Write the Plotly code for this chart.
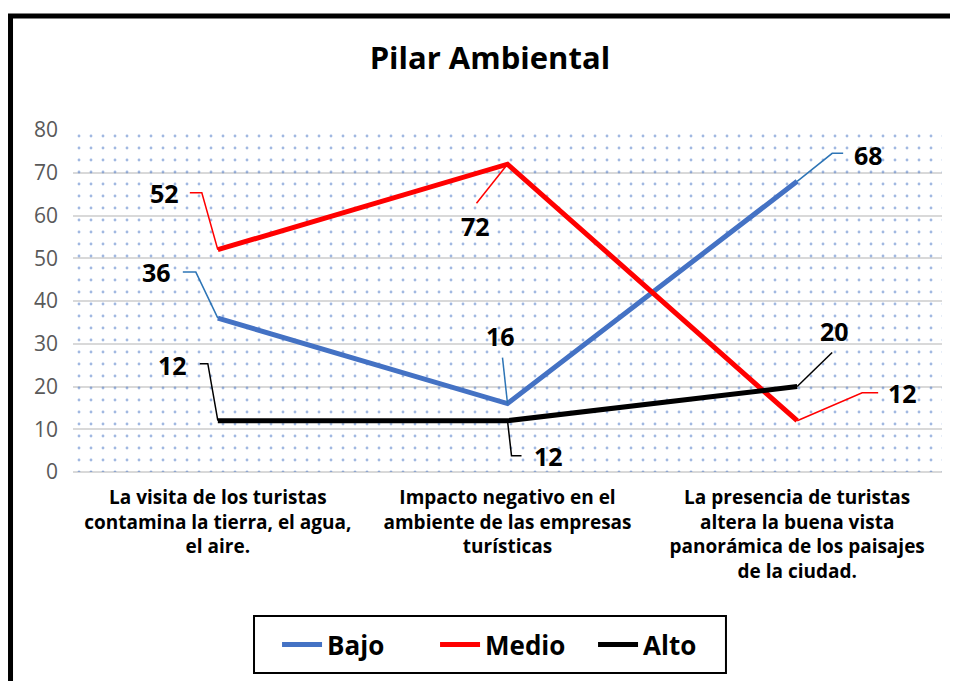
import plotly.graph_objects as go

# data
categories = [
    "La visita de los turistas<br>contamina la tierra, el agua,<br>el aire.",
    "Impacto negativo en el<br>ambiente de las empresas<br>turísticas",
    "La presencia de turistas<br>altera la buena vista<br>panorámica de los paisajes<br>de la ciudad.",
]
bajo = [36, 16, 68]
medio = [52, 72, 12]
alto = [12, 12, 20]
y_ticks = [0, 10, 20, 30, 40, 50, 60, 70, 80]

FONT = "Open Sans"
series = [
    ("Bajo", bajo, "#4472C4", "#2E75B6"),
    ("Medio", medio, "#FF0000", "#FF0000"),
    ("Alto", alto, "#000000", "#000000"),
]

# leader line elbows (pixel offsets from the point, y up) and label placement
leaders = {
    "Bajo": [[(-22, 46), (-35, 46)], [(-5, 46)], [(35, 28), (46, 28)]],
    "Medio": [[(-16, 57), (-28, 57)], [(-31, -39)], [(65, 28), (81, 28)]],
    "Alto": [[(-10, 57), (-18, 57)], [(4, -35), (14, -35)], [(35, 34)]],
}
labels = {
    "Bajo": [("right", -45, 46), ("center", -7, 68), ("left", 55, 26)],
    "Medio": [("right", -37, 57), ("center", -32, -62), ("left", 89, 28)],
    "Alto": [("right", -29, 56), ("left", 24, -35), ("center", 37, 56)],
}

fig = go.Figure()

# dotted plot-area fill
fig.add_trace(go.Bar(
    x=categories, y=[max(y_ticks)] * len(categories), width=1,
    marker=dict(color="rgba(0,0,0,0)", line_width=0,
                pattern=dict(shape=".", fgcolor="#4472C4", size=12,
                             solidity=0.045, fillmode="overlay")),
    showlegend=False, hoverinfo="skip",
))

for name, vals, color, lead in series:
    fig.add_trace(go.Scatter(
        x=categories, y=vals, mode="lines", name=name,
        line=dict(color=color, width=5),
    ))

annotations = []
shapes = []
for name, vals, color, lead in series:
    for i, v in enumerate(vals):
        pts = [(0, 0)] + leaders[name][i]
        path = "M" + " L".join(f"{px},{py}" for px, py in pts)
        shapes.append(dict(type="path", xref="x", yref="y",
                           xsizemode="pixel", ysizemode="pixel",
                           xanchor=categories[i], yanchor=v, path=path,
                           line=dict(color=lead, width=1.5)))
        anchor, xs, ys = labels[name][i]
        annotations.append(dict(x=categories[i], y=v, text=str(v), showarrow=False,
                                xanchor=anchor, yanchor="middle", xshift=xs, yshift=ys,
                                font=dict(family=FONT, size=25, color="black", weight="bold")))

# outer chart frame (only left and top edges fall inside the picture)
shapes.append(dict(type="line", xref="paper", yref="paper", x0=-0.0719, x1=-0.0719,
                   y0=-1.5, y1=1.3333, line=dict(color="black", width=5)))
shapes.append(dict(type="line", xref="paper", yref="paper", x0=-0.0748, x1=1.2,
                   y0=1.3333, y1=1.3333, line=dict(color="black", width=5)))
# legend box
shapes.append(dict(type="rect", xref="paper", yref="paper", x0=0.2083, x1=0.7514,
                   y0=-0.5877, y1=-0.421, line=dict(color="black", width=2)))

fig.update_layout(
    width=958, height=681,
    margin=dict(l=65, r=24, t=122, b=217),
    paper_bgcolor="white", plot_bgcolor="white",
    title=dict(text="<b>Pilar Ambiental</b>", x=0.503, xref="container", xanchor="center",
               y=0.927, yref="container", yanchor="middle",
               font=dict(family=FONT, size=31, color="black")),
    font=dict(family=FONT),
    showlegend=True,
    legend=dict(orientation="h", x=0.2348, xanchor="left", y=-0.5044, yanchor="middle",
                borderwidth=0, bgcolor="rgba(0,0,0,0)",
                font=dict(family=FONT, size=26, color="black", weight="bold"),
                itemwidth=40, entrywidth=103),
    annotations=annotations,
    shapes=shapes,
    bargap=0,
)
fig.update_xaxes(type="category", range=[-0.5, 2.5], showgrid=False, ticks="",
                 showline=False, ticklabelstandoff=12,
                 tickfont=dict(family=FONT, size=19, color="black", weight="bold"))
fig.update_yaxes(range=[0, 80], tickvals=y_ticks, showgrid=True, gridcolor="#D9D9D9",
                 gridwidth=1.5, zeroline=True, zerolinecolor="#D9D9D9", zerolinewidth=1.5,
                 tickfont=dict(family=FONT, size=21, color="#595959"), ticklabelstandoff=14)

fig.write_html("out.html")
